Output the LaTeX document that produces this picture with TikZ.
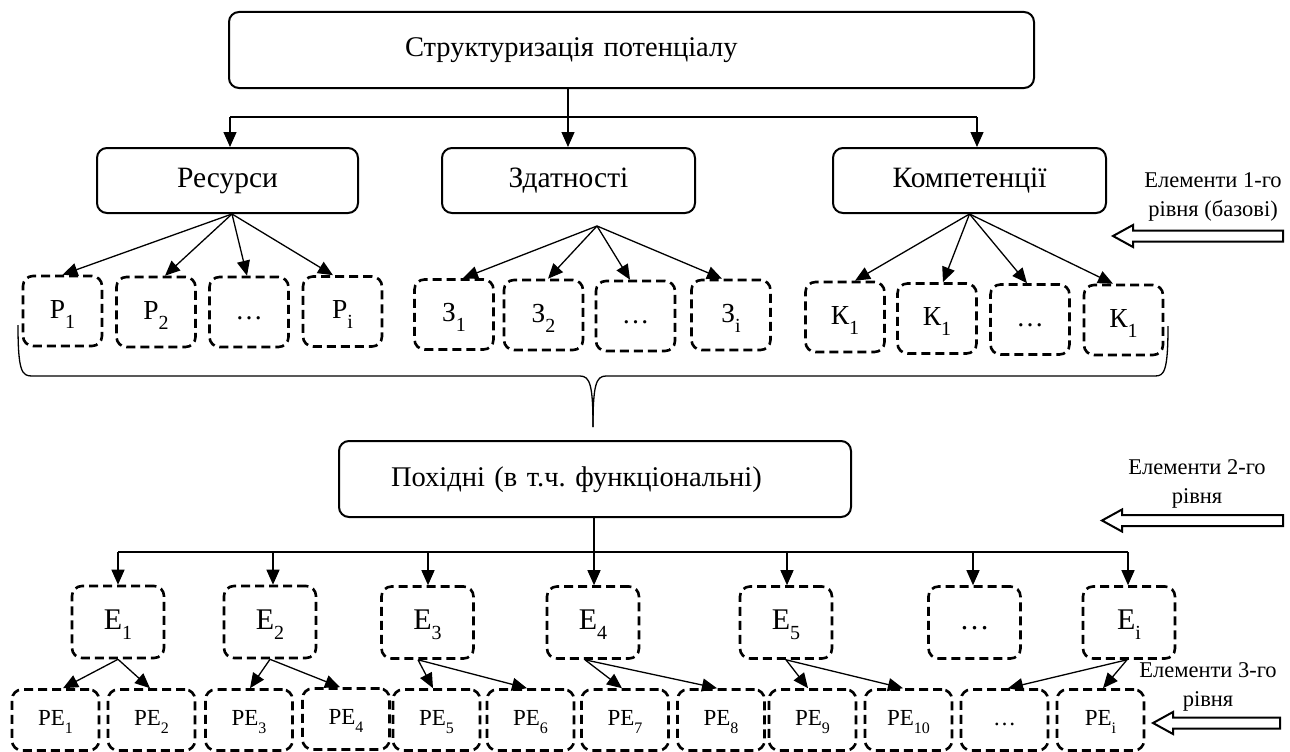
\documentclass[tikz,border=0pt]{standalone}
\usepackage{fontspec}
\setmainfont{Liberation Serif}
\usetikzlibrary{arrows.meta,calc}
\frenchspacing
\newcommand\sbb[1]{\raisebox{-10pt}{\fontsize{20}{20}\selectfont #1}}
\newcommand\sbs[1]{\raisebox{-8pt}{\fontsize{16}{16}\selectfont #1}}
\begin{document}
\begin{tikzpicture}[x=1pt,y=-1pt,
  solidbox/.style={draw, line width=2pt, rounded corners=10pt, inner sep=0pt,
    font=\fontsize{28.5}{30}\selectfont, text height=19pt, text depth=5pt},
  lvlbox/.style={solidbox, font=\fontsize{29.5}{32}\selectfont, minimum height=65pt},
  dbox/.style={draw, line width=2.6pt, dash pattern=on 9pt off 5pt, rounded corners=10pt,
    minimum width=79pt, minimum height=70pt, inner sep=0pt,
    font=\fontsize{27.5}{30}\selectfont, text height=19pt, text depth=5pt},
  ebox/.style={dbox, minimum width=92pt, minimum height=72pt,
    font=\fontsize{30}{32}\selectfont, text height=20pt, text depth=6pt},
  pebox/.style={dbox, minimum width=87pt, minimum height=61pt,
    font=\fontsize{23}{25}\selectfont, text height=15pt, text depth=4pt},
  conn/.style={line width=1.3pt, -{Triangle[length=15pt,width=13pt]}},
  plain/.style={line width=1.3pt},
  lbl/.style={font=\fontsize{22.5}{29}\selectfont, align=center, inner sep=0pt},
  hollow/.style={draw, line width=2pt, fill=white}
]
\useasboundingbox (0,0) rectangle (1290,752);

% top
\node[solidbox, text width=805pt, align=left, minimum height=76pt] (top) at (631.5,50)
  {\hspace*{176pt}Структуризація потенціалу};
\node[lvlbox, minimum width=261pt] (res) at (227.5,180.5) {Ресурси};
\node[lvlbox, minimum width=253pt] (zd) at (568.5,180.5) {Здатності};
\node[lvlbox, minimum width=273pt] (kom) at (969.5,180.5) {Компетенції};

\coordinate (hm) at (568,117);
\coordinate (hl) at (230,117);
\coordinate (hr) at (977,117);
\draw[plain] (hm |- top.south) -- (hm);
\draw[plain] (hl) -- (hr);
\draw[conn] (hl) -- (hl |- res.north);
\draw[conn] (hm) -- (hm |- zd.north);
\draw[conn] (hr) -- (hr |- kom.north);

% level 1 elements
\node[dbox] (p1) at (62.5,311) {Р\sbb{1}};
\node[dbox] (p2) at (156,312) {Р\sbb{2}};
\node[dbox] (p3) at (249,312) {…};
\node[dbox] (p4) at (342.5,311.5) {Р\sbb{i}};
\node[dbox] (z1) at (454,314.5) {З\sbb{1}};
\node[dbox] (z2) at (543.5,315) {З\sbb{2}};
\node[dbox] (z3) at (635.5,316) {…};
\node[dbox] (z4) at (731,315) {З\sbb{i}};
\node[dbox] (k1) at (845,317) {К\sbb{1}};
\node[dbox] (k2) at (937,318.5) {К\sbb{1}};
\node[dbox] (k3) at (1030,319.5) {…};
\node[dbox] (k4) at (1123.5,320) {К\sbb{1}};

\coordinate (ra) at (232,214);
\coordinate (za) at (597,226);
\draw[conn] (ra) -- (p1.north);
\draw[conn] (ra) -- ([xshift=9pt]p2.north);
\draw[conn] (ra) -- ([xshift=-2pt]p3.north);
\draw[conn] (ra) -- ([xshift=-9.5pt]p4.north);
\draw[conn] (za) -- ([xshift=9pt]z1.north);
\draw[conn] (za) -- ([xshift=4.5pt]z2.north);
\draw[conn] (za) -- ([xshift=-5.5pt]z3.north);
\draw[conn] (za) -- ([xshift=-9pt]z4.north);
\draw[conn] (kom.south) -- ([xshift=10pt]k1.north);
\draw[conn] (kom.south) -- ([xshift=6pt]k2.north);
\draw[conn] (kom.south) -- ([xshift=-3pt]k3.north);
\draw[conn] (kom.south) -- ([xshift=-10.5pt]k4.north);

% brace
\draw[plain] (18,325) .. controls (18,372) and (22,376) .. (32,376) -- (580,376)
  .. controls (590,376) and (593,385) .. (593,427);
\draw[plain] (593,427) .. controls (593,385) and (596,376) .. (606,376) -- (1155,376)
  .. controls (1164,376) and (1168,372) .. (1168,326);

% level 2
\node[solidbox, text width=512pt, align=left, minimum height=76pt] (mid) at (595,479)
  {\hspace*{52pt}Похідні (в т.ч. функціональні)};
\coordinate (bm) at (594,552);
\coordinate (bl) at (118,552);
\coordinate (br) at (1128,552);
\draw[plain] (bm |- mid.south) -- (bm);
\draw[plain] (bl) -- (br);

\node[ebox] (e1) at (118,622) {Е\sbb{1}};
\node[ebox] (e2) at (270,622) {Е\sbb{2}};
\node[ebox] (e3) at (427.5,622.5) {Е\sbb{3}};
\node[ebox] (e4) at (593,622.5) {Е\sbb{4}};
\node[ebox] (e5) at (786,622.5) {Е\sbb{5}};
\node[ebox] (e6) at (974.5,622.5) {…};
\node[ebox] (e7) at (1129,622.5) {Е\sbb{i}};

\draw[conn] (bl) -- (bl |- e1.north);
\draw[conn] (273,552) -- (273,0 |- e2.north);
\draw[conn] (428,552) -- (428,0 |- e3.north);
\draw[conn] (bm) -- (bm |- e4.north);
\draw[conn] (787,552) -- (787,0 |- e5.north);
\draw[conn] (973,552) -- (973,0 |- e6.north);
\draw[conn] (br) -- (br |- e7.north);

% level 3
\node[pebox] (q1) at (55.5,720) {PE\sbs{1}};
\node[pebox] (q2) at (151.5,720) {PE\sbs{2}};
\node[pebox] (q3) at (249,720) {PE\sbs{3}};
\node[pebox] (q4) at (346,719) {PE\sbs{4}};
\node[pebox] (q5) at (436.5,720) {PE\sbs{5}};
\node[pebox] (q6) at (530.5,720) {PE\sbs{6}};
\node[pebox] (q7) at (625,720) {PE\sbs{7}};
\node[pebox] (q8) at (721,720) {PE\sbs{8}};
\node[pebox] (q9) at (812.5,720) {PE\sbs{9}};
\node[pebox] (q10) at (908.5,720) {PE\sbs{10}};
\node[pebox] (q11) at (1004.5,720) {…};
\node[pebox] (q12) at (1100.5,720) {PE\sbs{i}};

\draw[conn] (e1.south) -- ([xshift=7.5pt]q1.north);
\draw[conn] (e1.south) -- ([xshift=-1.5pt]q2.north);
\draw[conn] (e2.south) -- ([xshift=1pt]q3.north);
\draw[conn] (e2.south) -- ([xshift=-6pt]q4.north);
\draw[conn] ([xshift=-9.5pt]e3.south) -- ([xshift=-3.5pt]q5.north);
\draw[conn] ([xshift=-9.5pt]e3.south) -- ([xshift=-3.5pt]q6.north);
\draw[conn] ([xshift=-8pt]e4.south) -- ([xshift=-3pt]q7.north);
\draw[conn] ([xshift=-8pt]e4.south) -- ([xshift=-4pt]q8.north);
\draw[conn] (e5.south) -- ([xshift=-4.5pt]q9.north);
\draw[conn] (e5.south) -- ([xshift=-5.5pt]q10.north);
\draw[conn] ([xshift=-2pt]e7.south) -- ([xshift=3.5pt]q11.north);
\draw[conn] ([xshift=-2pt]e7.south) -- ([xshift=2.5pt]q12.north);

% right labels
\node[lbl] (l1) at (1213,197) {Елементи 1-го\\рівня (базові)};
\node[lbl] (l2) at (1197,483.5) {Елементи 2-го\\рівня};
\node[lbl] (l3) at (1208,686.5) {Елементи 3-го\\рівня};

\draw[hollow] (1113,236) -- (1133,225) -- (1133,230.5) -- (1283,230.5) -- (1283,241.5)
  -- (1133,241.5) -- (1133,247) -- cycle;
\draw[hollow] (1102,520.5) -- (1122,509.5) -- (1122,515) -- (1283,515) -- (1283,526)
  -- (1122,526) -- (1122,531.5) -- cycle;
\draw[hollow] (1153,723) -- (1173,712) -- (1173,717.5) -- (1280,717.5) -- (1280,728.5)
  -- (1173,728.5) -- (1173,734) -- cycle;
\end{tikzpicture}
\end{document}
